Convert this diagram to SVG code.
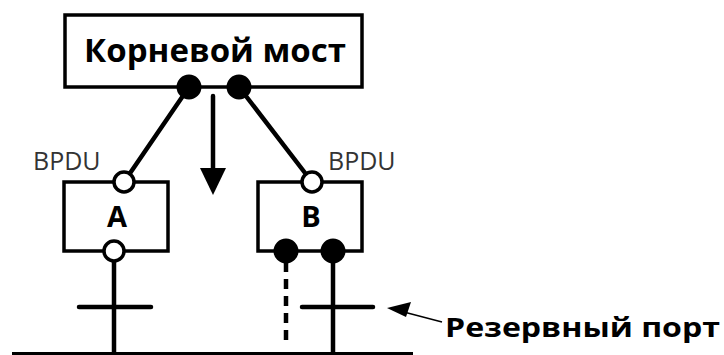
<svg xmlns="http://www.w3.org/2000/svg" width="724" height="355" viewBox="0 0 724 355">
<defs>
<style>
.box{fill:#fff;stroke:#000;stroke-width:3.5}
.ln{stroke:#000;stroke-width:4.5;fill:none;stroke-linecap:round}
.pf{fill:#000;stroke:#000;stroke-width:2}
.po{fill:#fff;stroke:#000;stroke-width:3.5}
.t{font-family:"Open Sans","DejaVu Sans",sans-serif;font-weight:bold;fill:#000}
.s{font-family:"Open Sans","DejaVu Sans",sans-serif;fill:#333}
</style>
</defs>
<rect width="724" height="355" fill="#fff"/>
<g id="connectors">
<line class="ln" x1="189" y1="87" x2="124" y2="182"/>
<line class="ln" x1="239" y1="87" x2="312" y2="182"/>
<line class="ln" x1="213" y1="96" x2="213" y2="170"/>
<path d="M200,168L226,168L213,195z" fill="#000"/>
<line class="ln" x1="114" y1="251" x2="114" y2="356" stroke-linecap="butt"/>
<line class="ln" x1="333" y1="251" x2="333" y2="356" stroke-linecap="butt"/>
<line x1="286" y1="262" x2="286" y2="346" stroke="#000" stroke-width="4.5" stroke-dasharray="10,7"/>
<line class="ln" x1="79" y1="307" x2="151" y2="307"/>
<line class="ln" x1="302" y1="307" x2="373" y2="307"/>
<line x1="12" y1="354" x2="413" y2="354" stroke="#000" stroke-width="4"/>
<line x1="442" y1="322" x2="400" y2="311" stroke="#000" stroke-width="1.5"/>
<path d="M387,308L411,302L406,317z" fill="#000"/>
</g>
<g id="root">
<rect class="box" x="65" y="15" width="297" height="72"/>
<text class="t" x="215" y="62" font-size="33" text-anchor="middle">Корневой мост</text>
<circle class="pf" cx="189" cy="87" r="11.5"/>
<circle class="pf" cx="239" cy="87" r="11.5"/>
</g>
<g id="A">
<rect class="box" x="64" y="182" width="104" height="69"/>
<text class="t" x="117" y="227" font-size="29" text-anchor="middle">A</text>
<circle class="po" cx="124" cy="182" r="10"/>
<circle class="po" cx="114" cy="251" r="10"/>
<text class="s" x="33" y="170" font-size="25">BPDU</text>
</g>
<g id="B">
<rect class="box" x="258" y="182" width="104" height="69"/>
<text class="t" x="311" y="227" font-size="29" text-anchor="middle">B</text>
<circle class="po" cx="312" cy="182" r="10"/>
<circle class="pf" cx="286" cy="251" r="11.5"/>
<circle class="pf" cx="333" cy="251" r="11.5"/>
<text class="s" x="328" y="170" font-size="25">BPDU</text>
</g>
<g id="label">
<text class="t" x="445" y="337" font-size="26" textLength="275" lengthAdjust="spacingAndGlyphs">Резервный порт</text>
</g>
</svg>
